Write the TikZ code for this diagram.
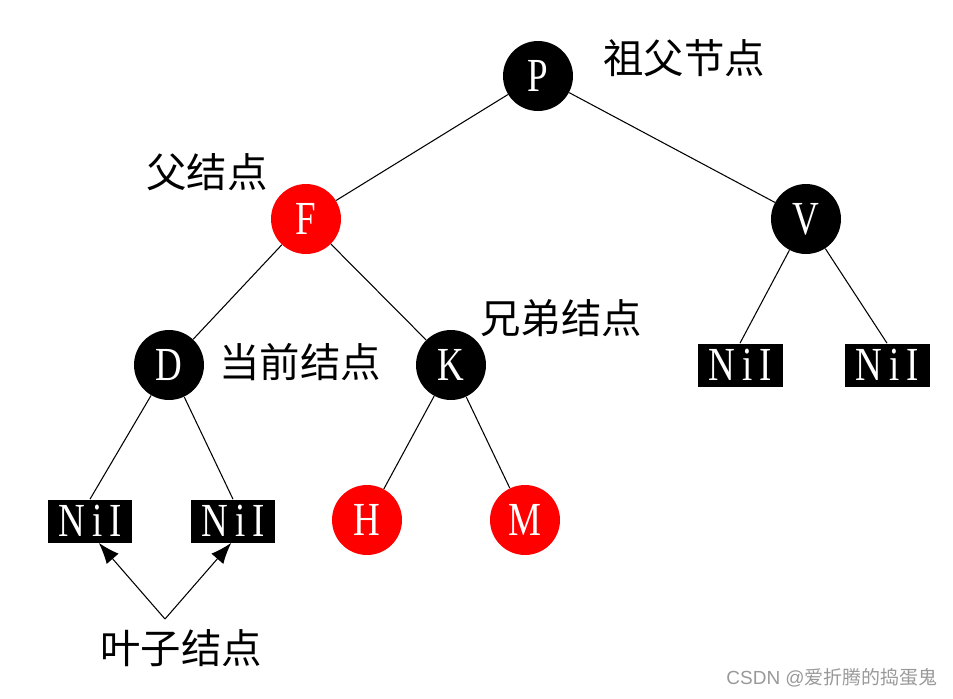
\documentclass[tikz,border=0pt]{standalone}
\usepackage{fontspec}
\newfontfamily\cjk{Noto Sans CJK SC}
\newfontfamily\monofont[FakeStretch=0.78]{Liberation Serif}
\usetikzlibrary{arrows.meta, positioning}

\begin{document}
\begin{tikzpicture}[
    x=0.02cm, y=-0.02cm,
    blacknode/.style={circle, fill=black, minimum size=1.4cm, inner sep=0pt, text=white, font=\monofont\fontsize{27}{27}\selectfont},
    rednode/.style={blacknode, fill=red},
    nilbox/.style={rectangle, fill=black, minimum width=1.7cm, minimum height=0.86cm, inner sep=0pt, text=white, font=\monofont\fontsize{27}{27}\selectfont},
    lbl/.style={font=\cjk\fontsize{23}{23}\selectfont, inner sep=0pt},
    edge/.style={draw=black, line width=0.6pt},
    arrow/.style={-{Latex[length=12pt, width=9pt]}, line width=0.6pt}
]
\useasboundingbox (0,0) rectangle (953,698);

% Tree nodes
\node[blacknode] (P) at (538,76) {P};
\node[rednode] (F) at (306,219) {F};
\node[blacknode] (V) at (806,219) {V};
\node[blacknode] (D) at (169,365) {D};
\node[blacknode] (K) at (451,365) {K};
\node[rednode] (H) at (367,520) {H};
\node[rednode] (M) at (525,520) {M};

% Leaves
\node[nilbox] (nilDL) at (90,521) {N\hspace{4pt}i\hspace{4pt}I};
\node[nilbox] (nilDR) at (233,521) {N\hspace{4pt}i\hspace{4pt}I};
\node[nilbox] (nilVL) at (740,365) {N\hspace{4pt}i\hspace{4pt}I};
\node[nilbox] (nilVR) at (887,365) {N\hspace{4pt}i\hspace{4pt}I};

% Labels
\node[lbl] (grandlbl) at (684,58) {祖父节点};
\node[lbl] (parentlbl) at (207,172) {父结点};
\node[lbl] (siblbl) at (561,318) {兄弟结点};
\node[lbl] (curlbl) at (300,362) {当前结点};
\node[lbl] (leaflbl) at (181,648) {叶子结点};
\coordinate (leafpt) at (165,619);
\node[font=\fontspec{Liberation Sans}\fontsize{10.8}{10.8}\selectfont, text=gray!80, inner sep=0pt] (mark) at (832,678) {CSDN @{\cjk 爱折腾的捣蛋鬼}};

% Edges
\draw[edge] (P) -- (F);
\draw[edge] (P) -- (V);
\draw[edge] (F) -- (D);
\draw[edge] (F) -- (K);
\draw[edge] (K) -- (H);
\draw[edge] (K) -- (M);
\draw[edge] (D) -- (nilDL.north);
\draw[edge] (D) -- (nilDR.north);
\draw[edge] (V) -- (nilVL.north);
\draw[edge] (V) -- (nilVR.north);

% Arrows
\draw[arrow] (leafpt) -- ([xshift=5] nilDL.south);
\draw[arrow] (leafpt) -- ([xshift=-1] nilDR.south);

\end{tikzpicture}
\end{document}
